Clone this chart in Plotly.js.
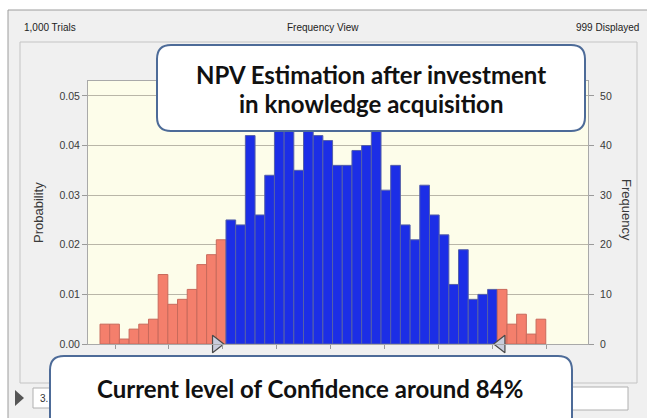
<!DOCTYPE html>
<html>
<head>
<meta charset="utf-8">
<script src="https://cdn.plot.ly/plotly-3.0.1.min.js"></script>
<style>html,body{margin:0;padding:0;background:#fff;}#chart{width:647px;height:418px;}</style>
</head>
<body>
<div id="chart"></div>
<script>
// ---- data ----
const binIndex = [];
for (let i = 1; i <= 46; i++) binIndex.push(i);
const frequency = [4,4,1,3,4,5,14,8,9,11,16,18,21,
  25,24,42,26,34,44,46,35,45,42,41,36,36,39,40,45,31,36,24,21,32,26,22,12,19,9,10,11,
  11,4,6,2,5];
const certaintyFirstBin = 14;   // first blue bin
const certaintyLastBin = 41;    // last blue bin
const trialsText = "1,000 Trials";
const viewText = "Frequency View";
const displayedText = "999 Displayed";
const calloutTop = ["NPV Estimation after investment", "in knowledge acquisition"];
const calloutBottom = "Current level of Confidence around 84%";
const probTicks = [0, 0.01, 0.02, 0.03, 0.04, 0.05];
const freqTicks = [0, 10, 20, 30, 40, 50];

// ---- styling / layout helpers ----
const L = 88, R = 588, T = 81, B = 344;
const X = p => (p - L) / (R - L);
const Y = p => (B - p) / (B - T);
function roundRect(x0, y0, x1, y1, r) {
  return `M ${X(x0+r)},${Y(y0)} L ${X(x1-r)},${Y(y0)} Q ${X(x1)},${Y(y0)} ${X(x1)},${Y(y0+r)} ` +
         `L ${X(x1)},${Y(y1-r)} Q ${X(x1)},${Y(y1)} ${X(x1-r)},${Y(y1)} ` +
         `L ${X(x0+r)},${Y(y1)} Q ${X(x0)},${Y(y1)} ${X(x0)},${Y(y1-r)} ` +
         `L ${X(x0)},${Y(y0+r)} Q ${X(x0)},${Y(y0)} ${X(x0+r)},${Y(y0)} Z`;
}
function rectPx(x0, y0, x1, y1, fill, line, layer) {
  return {type: 'rect', xref: 'paper', yref: 'paper', x0: X(x0), x1: X(x1), y0: Y(y1), y1: Y(y0),
          fillcolor: fill, line: {color: line, width: line === 'rgba(0,0,0,0)' ? 0 : 1}, layer: layer || 'below'};
}

const BLUE = '#1c2ee6', SALMON = '#f47f6c';
const barColors = binIndex.map(b => (b >= certaintyFirstBin && b <= certaintyLastBin) ? BLUE : SALMON);
const barLines = binIndex.map(b => (b >= certaintyFirstBin && b <= certaintyLastBin) ? '#5560a8' : '#c86a5c');

const freqMax = 53;
// invisible anchor so the probability axis (left) is drawn
const probAnchor = {
  type: 'scatter', mode: 'markers', x: [binIndex[0]], y: [0], yaxis: 'y',
  marker: {opacity: 0}, hoverinfo: 'skip', showlegend: false
};
const bars = {
  type: 'bar', x: binIndex, y: frequency, yaxis: 'y2',
  width: 1,
  marker: {color: barColors, line: {color: barLines, width: 1}},
  hoverinfo: 'skip', showlegend: false
};
const grabbers = {
  type: 'scatter', mode: 'markers', yaxis: 'y2', cliponaxis: false,
  x: [certaintyFirstBin - 1.5, certaintyLastBin + 0.9], y: [0, 0],
  marker: {symbol: ['triangle-right', 'triangle-left'], size: 15, color: '#c9cddc',
           line: {color: '#4a4a4a', width: 1.2}},
  hoverinfo: 'skip', showlegend: false
};

const tickStart = 2.05, tickStep = 5.56;
const xTicks = [];
for (let k = 0; k < 9; k++) xTicks.push(tickStart + k * tickStep);

const axisFont = {family: 'Liberation Sans, Arial, sans-serif', size: 10.5, color: '#3a3a3a'};

const layout = {
  width: 647, height: 418,
  margin: {l: L, r: 647 - R, t: T, b: 418 - B, pad: 0},
  paper_bgcolor: '#ffffff', plot_bgcolor: 'rgba(0,0,0,0)',
  bargap: 0,
  xaxis: {range: [binIndex[0] - 1.74, binIndex[0] + 49.86], showgrid: false, zeroline: false,
          showline: true, mirror: true, linecolor: '#a9a9a9', linewidth: 1,
          ticks: 'outside', ticklen: 4, tickcolor: '#9a9a9a', tickvals: xTicks, showticklabels: false},
  yaxis: {range: [0, freqMax / 1000], tickvals: probTicks, tickformat: '.2f', ticks: 'outside', ticklen: 5,
          tickcolor: '#9a9a9a', showgrid: true, gridcolor: '#b9b6a8', gridwidth: 1, zeroline: false,
          showline: true, mirror: true, linecolor: '#a9a9a9', tickfont: axisFont},
  yaxis2: {range: [0, freqMax], tickvals: freqTicks, overlaying: 'y', side: 'right', ticks: 'outside',
           ticklen: 5, tickcolor: '#9a9a9a', showgrid: false, zeroline: false, tickfont: axisFont,
           ticklabelstandoff: 4},
  shapes: [
    rectPx(8, 10, 660, 430, '#f0f0f0', '#9c9c9c'),
    rectPx(20, 42, 637, 383, 'rgba(0,0,0,0)', '#c4c4c4'),
    rectPx(88, 81, 588, 344, '#fdfdea', 'rgba(0,0,0,0)'),
    rectPx(33, 388, 62, 408, '#ffffff', '#b0b0b0'),
    rectPx(571, 387, 628, 410, '#ffffff', '#b0b0b0'),
    {type: 'path', xref: 'paper', yref: 'paper', layer: 'below',
     path: `M ${X(15)},${Y(390)} L ${X(24)},${Y(398)} L ${X(15)},${Y(406)} Z`,
     fillcolor: '#555555', line: {width: 0}},
    {type: 'path', xref: 'paper', yref: 'paper', layer: 'above', path: roundRect(157, 45, 585, 131, 14),
     fillcolor: '#ffffff', line: {color: '#4d6b98', width: 2}},
    {type: 'path', xref: 'paper', yref: 'paper', layer: 'above', path: roundRect(50, 356, 572, 445, 14),
     fillcolor: '#ffffff', line: {color: '#4d6b98', width: 2}}
  ],
  annotations: [
    {text: trialsText, xref: 'paper', yref: 'paper', x: X(22), y: Y(28), xanchor: 'left', yanchor: 'middle',
     showarrow: false, font: {family: 'Liberation Sans, Arial', size: 10, color: '#222'}},
    {text: viewText, xref: 'paper', yref: 'paper', x: X(323), y: Y(28), xanchor: 'center', yanchor: 'middle',
     showarrow: false, font: {family: 'Liberation Sans, Arial', size: 10, color: '#222'}},
    {text: displayedText, xref: 'paper', yref: 'paper', x: X(641), y: Y(28), xanchor: 'right', yanchor: 'middle',
     showarrow: false, font: {family: 'Liberation Sans, Arial', size: 10, color: '#222'}},
    {text: 'Probability', xref: 'paper', yref: 'paper', x: X(38), y: Y(213), textangle: -90,
     xanchor: 'center', yanchor: 'middle', showarrow: false,
     font: {family: 'Liberation Sans, Arial', size: 13, color: '#3a3a3a'}},
    {text: 'Frequency', xref: 'paper', yref: 'paper', x: X(627), y: Y(210), textangle: 90,
     xanchor: 'center', yanchor: 'middle', showarrow: false,
     font: {family: 'Liberation Sans, Arial', size: 13, color: '#3a3a3a'}},
    {text: '3.', xref: 'paper', yref: 'paper', x: X(38), y: Y(398), xanchor: 'left', yanchor: 'middle',
     showarrow: false, font: {family: 'Liberation Sans, Arial', size: 10, color: '#333'}},
    {text: calloutTop[0], xref: 'paper', yref: 'paper', x: X(371), y: Y(74), xanchor: 'center', yanchor: 'middle',
     showarrow: false, font: {family: 'Lato, Open Sans, sans-serif', size: 24, color: '#111', weight: 'bold'}},
    {text: calloutTop[1], xref: 'paper', yref: 'paper', x: X(371), y: Y(103), xanchor: 'center', yanchor: 'middle',
     showarrow: false, font: {family: 'Lato, Open Sans, sans-serif', size: 24, color: '#111', weight: 'bold'}},
    {text: calloutBottom, xref: 'paper', yref: 'paper', x: X(310), y: Y(388), xanchor: 'center', yanchor: 'middle',
     showarrow: false, font: {family: 'Lato, Open Sans, sans-serif', size: 24, color: '#111', weight: 'bold'}}
  ]
};

Plotly.newPlot('chart', [probAnchor, bars, grabbers], layout, {staticPlot: true, displayModeBar: false});
</script>
</body>
</html>
